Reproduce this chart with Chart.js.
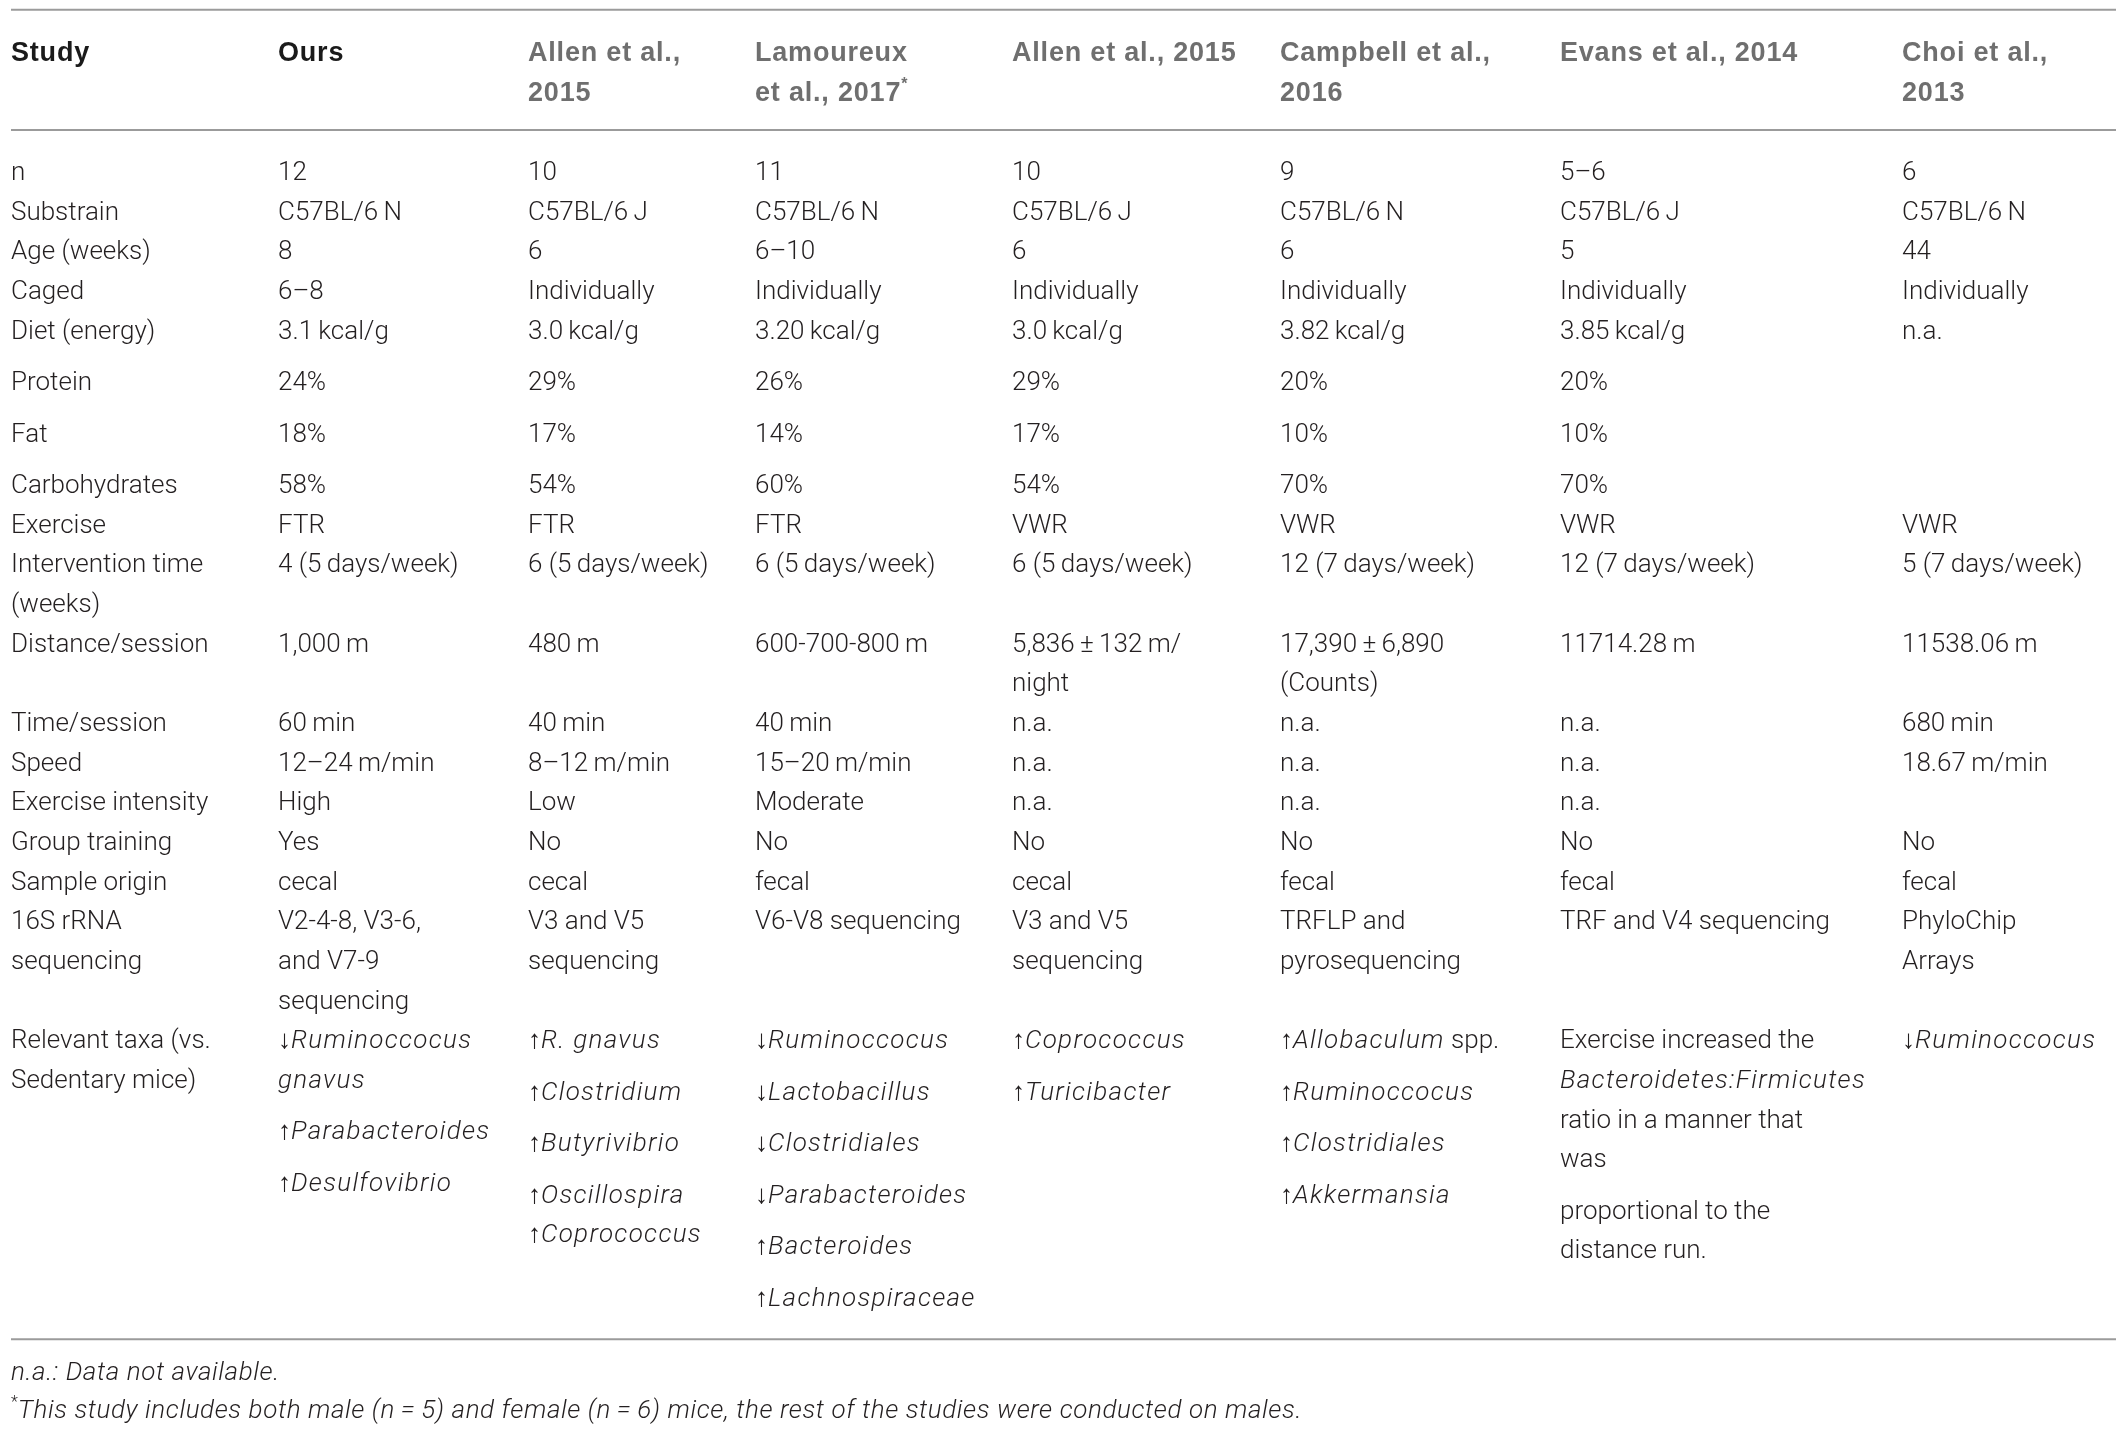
<!DOCTYPE html>
<html>
<head>
<meta charset="utf-8">
<title>Exercise studies comparison</title>
<script src="https://cdn.jsdelivr.net/npm/chart.js@4.4.1/dist/chart.umd.min.js"></script>
<style>
  html, body { margin: 0; padding: 0; background: #ffffff; }
  canvas { display: block; }
</style>
</head>
<body>
<canvas id="studyTable" width="2126" height="1432"></canvas>
<script>
// ---- table content ----
// markup: _italic_  ^superscript^  \n = wrapped line, array item = new paragraph
const headerTitle = 'Study';
const studies = ['Ours', 'Allen et al.,\n2015', 'Lamoureux\net al., 2017^*^', 'Allen et al., 2015',
                 'Campbell et al.,\n2016', 'Evans et al., 2014', 'Choi et al.,\n2013'];
const rowLabels = ['n', 'Substrain', 'Age (weeks)', 'Caged', 'Diet (energy)', 'Protein', 'Fat',
                   'Carbohydrates', 'Exercise', 'Intervention time\n(weeks)', 'Distance/session',
                   'Time/session', 'Speed', 'Exercise intensity', 'Group training', 'Sample origin',
                   '16S rRNA\nsequencing', 'Relevant taxa (vs.\nSedentary mice)'];

const nMice = ['12', '10', '11', '10', '9', '5–6', '6'];
const substrain = ['C57BL/6\u2009N', 'C57BL/6\u2009J', 'C57BL/6\u2009N', 'C57BL/6\u2009J', 'C57BL/6\u2009N', 'C57BL/6\u2009J', 'C57BL/6\u2009N'];
const ageWeeks = ['8', '6', '6–10', '6', '6', '5', '44'];
const caged = ['6–8', 'Individually', 'Individually', 'Individually', 'Individually', 'Individually', 'Individually'];
const dietEnergy = ['3.1\u2009kcal/g', '3.0\u2009kcal/g', '3.20\u2009kcal/g', '3.0\u2009kcal/g', '3.82\u2009kcal/g', '3.85\u2009kcal/g', 'n.a.'];
const protein = ['24%', '29%', '26%', '29%', '20%', '20%', ''];
const fat = ['18%', '17%', '14%', '17%', '10%', '10%', ''];
const carbohydrates = ['58%', '54%', '60%', '54%', '70%', '70%', ''];
const exercise = ['FTR', 'FTR', 'FTR', 'VWR', 'VWR', 'VWR', 'VWR'];
const interventionTime = ['4 (5\u2009days/week)', '6 (5\u2009days/week)', '6 (5\u2009days/week)', '6 (5\u2009days/week)',
                          '12 (7\u2009days/week)', '12 (7\u2009days/week)', '5 (7\u2009days/week)'];
const distanceSession = ['1,000\u2009m', '480\u2009m', '600-700-800\u2009m', '5,836\u2009±\u2009132\u2009m/\nnight',
                         '17,390\u2009±\u20096,890\n(Counts)', '11714.28\u2009m', '11538.06\u2009m'];
const timeSession = ['60\u2009min', '40\u2009min', '40\u2009min', 'n.a.', 'n.a.', 'n.a.', '680\u2009min'];
const speed = ['12–24\u2009m/min', '8–12\u2009m/min', '15–20\u2009m/min', 'n.a.', 'n.a.', 'n.a.', '18.67\u2009m/min'];
const intensity = ['High', 'Low', 'Moderate', 'n.a.', 'n.a.', 'n.a.', ''];
const groupTraining = ['Yes', 'No', 'No', 'No', 'No', 'No', 'No'];
const sampleOrigin = ['cecal', 'cecal', 'fecal', 'cecal', 'fecal', 'fecal', 'fecal'];
const sequencing = ['V2-4-8, V3-6,\nand V7-9\nsequencing', 'V3 and V5\nsequencing', 'V6-V8 sequencing',
                    'V3 and V5\nsequencing', 'TRFLP and\npyrosequencing', 'TRF and V4 sequencing', 'PhyloChip\nArrays'];
const relevantTaxa = [
    ['↓_Ruminoccocus_\n_gnavus_', '↑_Parabacteroides_', '↑_Desulfovibrio_'],
    ['↑_R. gnavus_', '↑_Clostridium_', '↑_Butyrivibrio_', '↑_Oscillospira_\n↑_Coprococcus_'],
    ['↓_Ruminoccocus_', '↓_Lactobacillus_', '↓_Clostridiales_', '↓_Parabacteroides_', '↑_Bacteroides_', '↑_Lachnospiraceae_'],
    ['↑_Coprococcus_', '↑_Turicibacter_'],
    ['↑_Allobaculum_ spp.', '↑_Ruminoccocus_', '↑_Clostridiales_', '↑_Akkermansia_'],
    ['Exercise increased the\n_Bacteroidetes:Firmicutes_\nratio in a manner that\nwas', 'proportional to the\ndistance run.'],
    ['↓_Ruminoccocus_']
];
const footnotes = ['_n.a.: Data not available._',
                   '^*^_This study includes both male (n\u2009=\u20095) and female (n\u2009=\u20096) mice, the rest of the studies were conducted on males._'];

const rowValues = [nMice, substrain, ageWeeks, caged, dietEnergy, protein, fat, carbohydrates, exercise,
                   interventionTime, distanceSession, timeSession, speed, intensity, groupTraining,
                   sampleOrigin, sequencing, relevantTaxa];

// ---- layout (scale units: x in px-like units, y in text lines) ----
const colLeft = [11, 278, 528, 755, 1012, 1280, 1560, 1902];
const ruleLeft = 11, ruleRight = 2116;
const rowSpaceBefore = [0, 0, 0, 0, 0, 0.3, 0.3, 0.3, 0, 0, 0, 0, 0, 0, 0, 0, 0, 0];
const PARA_STEP = 1.3;
const BODY_START = 3;

const LIGHT = 'Roboto, "Liberation Sans", sans-serif';
const BOLD = '"Liberation Sans", Arial, sans-serif';
// spacing = letter spacing upright, italicSpacing = letter spacing for italic runs
const styles = {
    body:     { size: 26, weight: '300', family: LIGHT, spacing: 0,   italicSpacing: 1.3, color: '#231f20' },
    head:     { size: 27, weight: '700', family: BOLD,  spacing: 0.8, italicSpacing: 0.8, color: '#1a1a1a' },
    headGray: { size: 27, weight: '700', family: BOLD,  spacing: 0.8, italicSpacing: 0.8, color: '#6f6f6f' },
    foot:     { size: 26, weight: '300', family: LIGHT, spacing: 0,   italicSpacing: 0.6, color: '#231f20' }
};

// turn one cell (string or paragraph list) into lines with y offsets
function cellLines(cell) {
    const paras = Array.isArray(cell) ? cell : [cell];
    const out = [];
    let off = 0;
    paras.forEach((p, pi) => {
        if (pi > 0) off += PARA_STEP;
        p.split('\n').forEach((line, li) => {
            if (li > 0) off += 1;
            out.push({ text: line, off: off });
        });
    });
    return out;
}

function buildCells() {
    const points = [];
    const add = (col, y, cell, style) => {
        cellLines(cell).forEach(l => {
            if (l.text !== '') points.push({ x: colLeft[col], y: y + l.off, text: l.text, style: style });
        });
    };
    // header row
    add(0, 0, headerTitle, 'head');
    studies.forEach((s, i) => add(i + 1, 0, s, i === 0 ? 'head' : 'headGray'));

    // body rows
    let y = BODY_START;
    let bottom = 0;
    rowLabels.forEach((label, r) => {
        y += rowSpaceBefore[r];
        const cells = [label].concat(rowValues[r]);
        let height = 1;
        cells.forEach((c, ci) => {
            const lines = cellLines(c);
            add(ci, y, c, 'body');
            height = Math.max(height, lines[lines.length - 1].off + 1);
        });
        bottom = Math.max(bottom, y + height - 1);
        y += height;
    });
    return { points: points, bottom: bottom };
}

const built = buildCells();
const tableRule = built.bottom + 0.84;
footnotes.forEach((f, i) => built.points.push({ x: colLeft[0], y: tableRule + 1.03 + i * 0.96, text: f, style: 'foot' }));

const rules = [-1.29, 1.74, tableRule];

// draws rich text at each point position given by the scales
const cellTextPlugin = {
    id: 'cellText',
    afterDatasetsDraw(chart) {
        const ctx = chart.ctx;
        chart.data.datasets.forEach((ds, di) => {
            if (!ds.isText) return;
            const meta = chart.getDatasetMeta(di);
            meta.data.forEach((el, i) => {
                const raw = ds.data[i];
                drawRich(ctx, raw.text, el.x, el.y, styles[raw.style]);
            });
        });
    }
};

function drawRich(ctx, text, x, y, st) {
    ctx.save();
    ctx.textBaseline = 'alphabetic';
    ctx.textAlign = 'left';
    ctx.fillStyle = st.color;
    let italic = false, sup = false, buf = '';
    let cx = x;
    const flush = () => {
        if (!buf) return;
        const size = sup ? Math.round(st.size * 0.6) : st.size;
        ctx.font = (italic ? 'italic ' : '') + st.weight + ' ' + size + 'px ' + st.family;
        ctx.letterSpacing = (italic ? st.italicSpacing : st.spacing) + 'px';
        ctx.fillText(buf, cx, sup ? y - st.size * 0.42 : y);
        cx += ctx.measureText(buf).width;
        buf = '';
    };
    for (const ch of text) {
        if (ch === '_') { flush(); italic = !italic; }
        else if (ch === '^') { flush(); sup = !sup; }
        else buf += ch;
    }
    flush();
    ctx.restore();
}

function makeChart() {
    const ctx = document.getElementById('studyTable').getContext('2d');
    const datasets = rules.map(r => ({
        type: 'line',
        data: [{ x: ruleLeft, y: r }, { x: ruleRight, y: r }],
        borderColor: '#9b9b9b',
        borderWidth: 2,
        pointRadius: 0,
        showLine: true
    }));
    datasets.push({
        isText: true,
        data: built.points,
        pointRadius: 0,
        pointHoverRadius: 0
    });

    new Chart(ctx, {
        type: 'scatter',
        data: { datasets: datasets },
        options: {
            responsive: false,
            devicePixelRatio: 1,
            animation: false,
            events: [],
            layout: { padding: 0 },
            plugins: { legend: { display: false }, tooltip: { enabled: false } },
            scales: {
                x: { type: 'linear', min: 0, max: 2126, display: false },
                y: { type: 'linear', min: -1.538, max: 34.58, reverse: true, display: false }
            }
        },
        plugins: [cellTextPlugin]
    });
}

document.addEventListener('DOMContentLoaded', function() {
    const loads = ['300 26px Roboto', 'italic 300 26px Roboto', '700 27px "Liberation Sans"'].map(f => document.fonts.load(f));
    Promise.all(loads).then(makeChart, makeChart);
});
</script>
</body>
</html>
